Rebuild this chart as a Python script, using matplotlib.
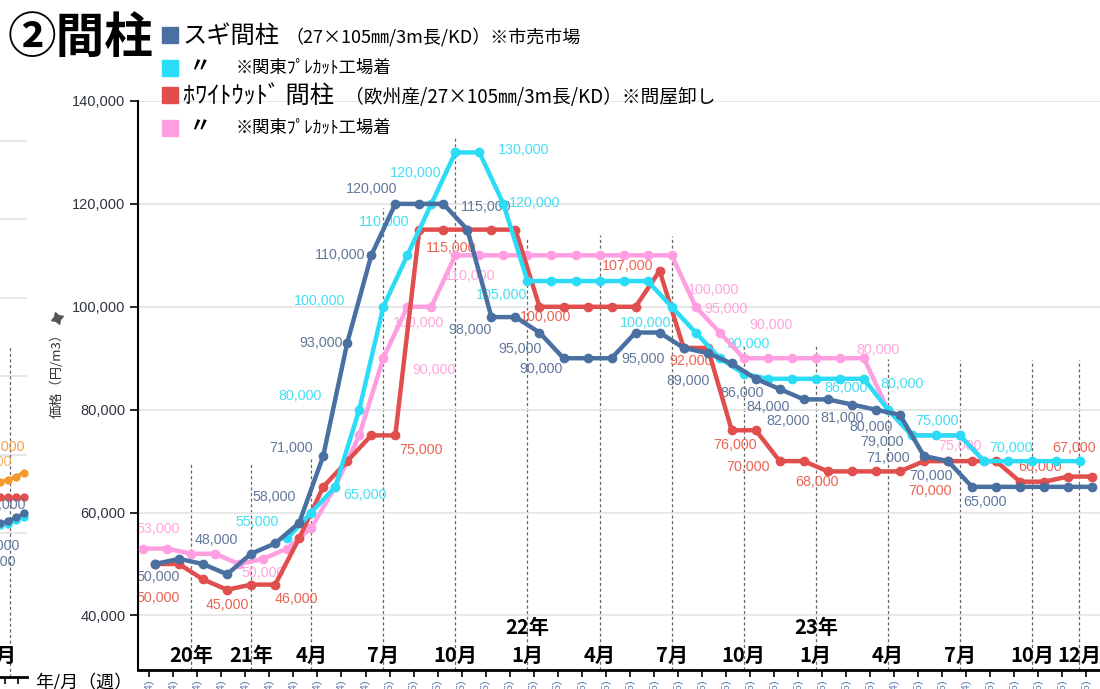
import numpy as np
import matplotlib
matplotlib.use("Agg")
import matplotlib.pyplot as plt
import matplotlib.transforms as mtransforms
from matplotlib import font_manager
from matplotlib.patches import Rectangle
from matplotlib.lines import Line2D

W, H = 1100, 689
JP = ['Noto Sans CJK JP', 'DejaVu Sans']
nan = np.nan

# narrow digits like the original if the narrow face is installed
names = {f.name for f in font_manager.fontManager.ttflist}
if 'Liberation Sans Narrow' in names:
    NUM = ['Liberation Sans Narrow', 'DejaVu Sans']
    LAB_FS, TICK_FS = 11.5, 12
else:
    NUM = ['Liberation Sans', 'DejaVu Sans']
    LAB_FS, TICK_FS = 10.3, 10.5

# ---- data (円/m3), 40 monthly points ----
# スギ間柱 市売市場
sugi_ichi = [50000, 51000, 50000, 48000, 52000, 54000, 58000, 71000, 93000, 110000,
             120000, 120000, 120000, 115000, 98000, 98000, 95000, 90000, 90000, 90000,
             95000, 95000, 92000, 91000, 89000, 86000, 84000, 82000, 82000, 81000,
             80000, 79000, 71000, 70000, 65000, 65000, 65000, 65000, 65000, 65000]
# ホワイトウッド間柱 問屋卸し
wood_ton = [50000, 50000, 47000, 45000, 46000, 46000, 55000, 65000, 70000, 75000,
            75000, 115000, 115000, 115000, 115000, 115000, 100000, 100000, 100000, 100000,
            100000, 107000, 92000, 92000, 76000, 76000, 70000, 70000, 68000, 68000,
            68000, 68000, 70000, 70000, 70000, 70000, 66000, 66000, 67000, 67000]
# 〃 関東プレカット工場着 (drawn half a step to the left)
sugi_pc = [nan, nan, nan, nan, nan, nan, 55000, 60000, 65000, 80000,
           100000, 110000, 120000, 130000, 130000, 120000, 105000, 105000, 105000, 105000,
           105000, 105000, 100000, 95000, 90000, 87000, 86000, 86000, 86000, 86000,
           86000, 80000, 75000, 75000, 75000, 70000, 70000, 70000, 70000, 70000]
wood_pc = [53000, 53000, 52000, 52000, 50000, 51000, 53000, 57000, 65000, 75000,
           90000, 100000, 100000, 110000, 110000, 110000, 110000, 110000, 110000, 110000,
           110000, 110000, 110000, 100000, 95000, 90000, 90000, 90000, 90000, 90000,
           90000, 80000, 75000, 75000, 75000, 70000, nan, nan, nan, nan]

# month markers: category position, top of dashed line, label
month_pos = [1.5, 4.0, 6.5, 9.5, 12.5, 15.5, 18.5, 21.5, 24.5, 27.5, 30.5, 33.5, 36.5, 38.45]
month_top = [69600, 69600, 70400, 119200, 132800, 113400, 113900, 113800,
             92600, 92800, 89800, 89700, 89700, 89700]
month_txt = ['20年', '21年', '4月', '7月', '10月', '1月', '4月', '7月',
             '10月', '1月', '4月', '7月', '10月', '12月']
year_txt = {15.5: '22年', 27.5: '23年'}
weeks = [4] * 10 + [5] * 21 + [4] + [5, 5] + [4] + [5] * 5

# piece of the previous chart visible at the left edge
prev_orange = [73000, 73600, 74400, 75400]
prev_red = [69300, 69300, 69300, 69300]
prev_blue = [62500, 63000, 64000, 65000]
prev_cyan = [62000, 62400, 63200, 64200]

# data labels: (index, dx px, dy px downwards)
lab_blue = [(0, 3, 13), (3, -11, -34), (6, -25, -26), (7, -32, -8), (8, -26, 0),
            (9, -31, 0), (10, -24, -15), (13, 19, -23), (14, -21, 13), (16, -19, 16),
            (17, -22, 11), (20, 7, 26), (24, -44, 18), (25, -14, 14), (26, -12, 18),
            (27, -16, 22), (29, -10, 13), (30, -5, 17), (31, -18, 27), (32, -36, 2),
            (33, -17, 15), (34, 13, 15)]
lab_red = [(0, 3, 34), (3, 0, 15), (5, 21, 14), (10, 26, 15), (11, 32, 18),
           (16, 6, 10), (21, -32, -5), (22, 7, 13), (24, 3, 15), (26, -32, 6),
           (28, -11, 11), (32, 6, 30), (36, 20, -15), (38, 6, -29)]
lab_cyan = [(6, -30, -16), (8, 30, 8), (9, -59, -14), (10, -64, -6), (11, -23, -33),
            (12, -16, -31), (14, 44, -2), (15, 31, -1), (16, -26, 14), (22, -26, 16),
            (24, 28, -14), (29, 6, 9), (31, 14, -26), (32, 25, -14), (35, 27, -13)]
lab_pink = [(0, 15, -20), (4, 24, 9), (10, 51, 12), (11, 11, 16), (13, 15, 21),
            (23, 18, -17), (24, 6, -24), (25, 27, -33), (31, -10, -60), (34, 0, 11)]

BLUE, CYAN, RED, PINK = '#4a6fa1', '#2bdcf7', '#e04e4e', '#ff9ee0'
LBLUE, LCYAN, LRED, LPINK = '#62779c', '#45dff3', '#ea6452', '#ffa6dd'


def fx(px):
    return px / W


def fy(py):
    return 1 - py / H


fig = plt.figure(figsize=(W / 100, H / 100), dpi=100)
fig.patch.set_facecolor('white')

# ---------- left-edge fragment ----------
ax0 = fig.add_axes([0, (H - 677) / H, 27 / W, (677 - 100) / H])
ax0.set_xlim(0, 27 / 8)
ax0.set_ylim(23265, 170459)
ax0.set_yticks(range(60000, 160001, 20000))
ax0.yaxis.grid(True, color='#e3e3e3', lw=1.2)
ax0.tick_params(left=False, labelleft=False, labelbottom=False, length=5, width=1.2)
ax0.set_xticks([0.6, 2.2])
for s in ['left', 'right', 'top']:
    ax0.spines[s].set_visible(False)
ax0.spines['bottom'].set_linewidth(2)
ax0.vlines([1.25], 23265, 107450, colors='#666666', linestyles=(0, (2.5, 2)), lw=0.9)
px = np.arange(4)
for vals, c, z in [(prev_red, RED, 3), (prev_orange, '#f39a2e', 4),
                   (prev_cyan, CYAN, 5), (prev_blue, BLUE, 6)]:
    ax0.plot(px, vals, color=c, lw=2.5, marker='o', ms=5, zorder=z, clip_on=False)
for t, x, y, c in [('75,000', 25, 447, '#f5a04a'), ('74,000', 12, 462, '#f7b060'),
                   ('60,000', 26, 505, LBLUE), ('58,000', 20, 546, LBLUE),
                   ('57,000', 16, 562, LBLUE)]:
    fig.text(fx(x), fy(y), t, ha='right', va='center', fontsize=LAB_FS, family=NUM, color=c)
fig.text(fx(16), fy(655), '1月', ha='right', va='center', fontsize=14.5,
         weight='bold', family=JP)

# ---------- main chart ----------
ax = fig.add_axes([138 / W, (H - 670) / H, (W - 138) / W, (670 - 101) / H])
ax.set_xlim((138 - 155) / 24.03, (1100 - 155) / 24.03)
ymin, ymax = 29400, 140000
ax.set_ylim(ymin, ymax)
for s in ['right', 'top']:
    ax.spines[s].set_visible(False)
ax.spines['left'].set_linewidth(1.5)
ax.spines['bottom'].set_linewidth(2)

ax.set_yticks(range(40000, 140001, 20000))
ax.set_yticklabels([f'{v:,}' for v in range(40000, 140001, 20000)],
                   family=NUM, fontsize=TICK_FS, color='#2e3440')
ax.yaxis.grid(True, color='#e3e3e3', lw=1.2, zorder=0)
ax.tick_params(axis='y', length=6, width=1.2, pad=3)

x = np.arange(len(sugi_ichi))
x_pc = x - 0.5
ax.set_xticks(x - 0.24)
ax.set_xticklabels([f'({w})' for w in weeks], rotation=90, family=NUM)
ax.tick_params(axis='x', length=5, width=1.2, pad=1.5, labelsize=8,
               labelcolor='#5a7cb6')

ax.vlines(month_pos, ymin, month_top, colors='#666666',
          linestyles=(0, (2.5, 2)), lw=0.9, zorder=1)

series = [(x_pc, wood_pc, PINK, LPINK, lab_pink, 3),
          (x, wood_ton, RED, LRED, lab_red, 4),
          (x_pc, sugi_pc, CYAN, LCYAN, lab_cyan, 5),
          (x, sugi_ichi, BLUE, LBLUE, lab_blue, 6)]
for xs, vals, c, lc, labs, z in series:
    ax.plot(xs, vals, color=c, lw=3.2, marker='o', ms=6, zorder=z,
            solid_joinstyle='round', clip_on=False)
    for i, dx, dy in labs:
        ax.annotate(f'{vals[i]:,}', (xs[i], vals[i]), xytext=(dx, -dy),
                    textcoords='offset pixels', ha='center', va='center',
                    fontsize=LAB_FS, family=NUM, color=lc, zorder=2)

blend = mtransforms.blended_transform_factory(ax.transData, ax.transAxes)
for p, t in zip(month_pos, month_txt):
    ax.text(p, 0.026, t, transform=blend, ha='center', va='center', fontsize=14.5,
            weight='bold', family=JP, zorder=7)
for p, t in year_txt.items():
    ax.text(p, 0.074, t, transform=blend, ha='center', va='center', fontsize=14.5,
            weight='bold', family=JP, zorder=7)

fig.text(fx(35), fy(673), '年/月（週）', ha='left', va='top', fontsize=13, family=JP)

# y axis title with pin
fig.text(fx(57), fy(372), '価格（円/m3）', rotation=90, ha='center', va='center',
         fontsize=9.5, family=JP, color='#333333')
fig.add_artist(Line2D([fx(57)], [fy(318)], marker=(4, 1, 20), ms=9, color='#555555',
                      transform=fig.transFigure))

# ---------- title & legend ----------
fig.text(fx(8), fy(38), '②間柱', ha='left', va='center', fontsize=35,
         weight='bold', family=JP)
rows = [(35, BLUE), (68, CYAN), (95, RED), (128, PINK)]
for yc, c in rows:
    fig.add_artist(Rectangle((fx(162), fy(yc + 8)), 16 / W, 16 / H, color=c,
                             transform=fig.transFigure))
fig.text(fx(183), fy(36), 'スギ間柱', ha='left', va='center', fontsize=17.5, family=JP)
fig.text(fx(285), fy(37), '（27×105㎜/3m長/KD）※市売市場', ha='left', va='center',
         fontsize=13, family=JP)
fig.text(fx(190), fy(66), '〃', ha='left', va='center', fontsize=15, weight='bold', family=JP)
fig.text(fx(236), fy(68), '※関東ﾌﾟﾚｶｯﾄ工場着', ha='left', va='center', fontsize=12.5, family=JP)
fig.text(fx(183), fy(96), 'ﾎﾜｲﾄｳｯﾄﾞ 間柱', ha='left', va='center', fontsize=17.5, family=JP)
fig.text(fx(345), fy(97), '（欧州産/27×105㎜/3m長/KD）※問屋卸し', ha='left', va='center',
         fontsize=13.5, family=JP)
fig.text(fx(190), fy(126), '〃', ha='left', va='center', fontsize=15, weight='bold', family=JP)
fig.text(fx(236), fy(128), '※関東ﾌﾟﾚｶｯﾄ工場着', ha='left', va='center', fontsize=12.5, family=JP)

fig.savefig('out.png', dpi=100)
